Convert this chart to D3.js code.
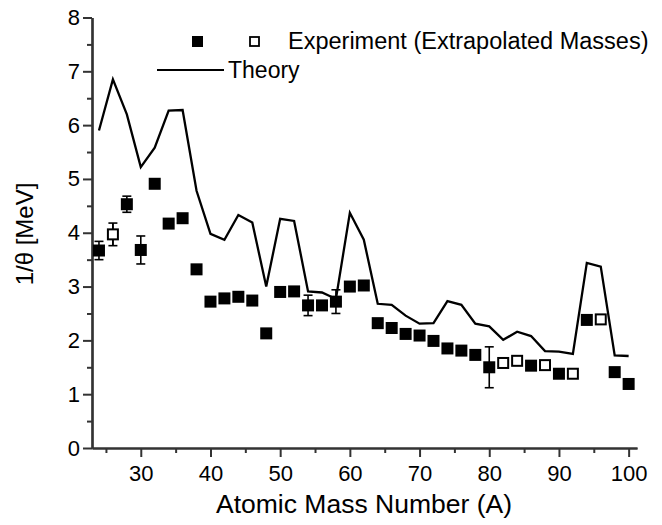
<!DOCTYPE html>
<html>
<head>
<meta charset="utf-8">
<script src="https://cdn.jsdelivr.net/npm/d3@7/dist/d3.min.js"></script>
<style>
  body { margin: 0; background: #fff; }
  svg { display: block; }
  text { font-family: "Liberation Sans", Arial, Helvetica, sans-serif; fill: #000; }
</style>
</head>
<body>
<svg id="chart" width="662" height="525"></svg>
<script>
// Theory curve
const theoryA = [24,26,28,30,32,34,36,38,40,42,44,46,48,50,52,54,56,58,60,62,64,66,68,70,72,74,76,78,80,82,84,86,88,90,92,94,96,98,100];
const theoryV = [5.90,6.85,6.20,5.22,5.58,6.27,6.28,4.78,3.98,3.87,4.33,4.19,3.00,4.26,4.22,2.91,2.89,2.77,4.37,3.87,2.68,2.66,2.46,2.31,2.32,2.73,2.66,2.31,2.26,2.01,2.16,2.08,1.80,1.79,1.75,3.44,3.37,1.72,1.71];

// Experiment (filled = measured, open = extrapolated masses)
const expA   = [24,26,28,30,32,34,36,38,40,42,44,46,48,50,52,54,56,58,60,62,64,66,68,70,72,74,76,78,80,82,84,86,88,90,92,94,96,98,100];
const expV   = [3.67,3.97,4.53,3.68,4.91,4.17,4.27,3.32,2.72,2.78,2.81,2.74,2.13,2.90,2.91,2.65,2.65,2.72,3.00,3.02,2.32,2.23,2.12,2.09,1.99,1.85,1.81,1.73,1.50,1.58,1.62,1.53,1.54,1.38,1.38,2.38,2.39,1.41,1.19];
const expErr = [0.17,0.21,0.15,0.26,0.05,0.05,0.07,0.08,0.04,0.04,0.04,0.04,0.03,0.04,0.04,0.19,0.04,0.22,0.04,0.04,0.04,0.04,0.04,0.04,0.04,0.04,0.04,0.04,0.38,0.05,0.04,0.04,0.04,0.04,0.04,0.04,0.04,0.04,0.04];
const expOpen = [false,true,false,false,false,false,false,false,false,false,false,false,false,false,false,false,false,false,false,false,false,false,false,false,false,false,false,false,false,true,true,false,true,false,true,false,true,false,false];

const xTicks = [30,40,50,60,70,80,90,100];
const xMinor = [25,35,45,55,65,75,85,95];
const yTicks = [0,1,2,3,4,5,6,7,8];
const yMinor = [0.5,1.5,2.5,3.5,4.5,5.5,6.5,7.5];

const legendLabels = ["Experiment (Extrapolated Masses)", "Theory"];
const xTitle = "Atomic Mass Number (A)";
const yTitle = "1/θ [MeV]";

const svg = d3.select("#chart");
const x = d3.scaleLinear().domain([23, 101.2]).range([92, 637]);
const y = d3.scaleLinear().domain([0, 8]).range([448, 17.5]);
const axisColor = "#333";

// X axis
const gx = svg.append("g").attr("transform", `translate(0,${y(0)})`);
gx.call(d3.axisBottom(x).tickValues(xTicks).tickSize(9).tickSizeOuter(0).tickPadding(8).tickFormat(d3.format("d")));
gx.append("g").call(d3.axisBottom(x).tickValues(xMinor).tickSize(5).tickSizeOuter(0).tickFormat(""));
gx.selectAll("path.domain").attr("stroke", axisColor).attr("stroke-width", 2.2);
gx.selectAll(".tick line").attr("stroke", axisColor).attr("stroke-width", 2);
gx.selectAll(".tick text").style("font-size", "22px").style("font-family", "Liberation Sans, Arial, sans-serif").attr("fill", "#000");

// Y axis
const gy = svg.append("g").attr("transform", `translate(${x(23)},0)`);
gy.call(d3.axisLeft(y).tickValues(yTicks).tickSize(9).tickSizeOuter(0).tickPadding(3).tickFormat(d3.format("d")));
gy.append("g").call(d3.axisLeft(y).tickValues(yMinor).tickSize(5).tickSizeOuter(0).tickFormat(""));
gy.selectAll("path.domain").attr("stroke", axisColor).attr("stroke-width", 2.2);
gy.selectAll(".tick line").attr("stroke", axisColor).attr("stroke-width", 2);
gy.selectAll(".tick text").style("font-size", "22px").style("font-family", "Liberation Sans, Arial, sans-serif").attr("fill", "#000");

// Theory line
const line = d3.line().x(d => x(d[0])).y(d => y(d[1]));
svg.append("path")
  .datum(theoryA.map((a, i) => [a, theoryV[i]]))
  .attr("d", line)
  .attr("fill", "none")
  .attr("stroke", "#000")
  .attr("stroke-width", 2.3)
  .attr("stroke-linejoin", "miter");

// Experiment points
const pts = expA.map((a, i) => ({a, v: expV[i], e: expErr[i], open: expOpen[i]}));
const capW = 4.5;
const eb = svg.append("g").attr("stroke", "#000").attr("stroke-width", 1.6);
pts.filter(d => d.e > 0.1).forEach(d => {
  eb.append("line").attr("x1", x(d.a)).attr("x2", x(d.a)).attr("y1", y(d.v + d.e)).attr("y2", y(d.v - d.e));
  eb.append("line").attr("x1", x(d.a) - capW).attr("x2", x(d.a) + capW).attr("y1", y(d.v + d.e)).attr("y2", y(d.v + d.e));
  eb.append("line").attr("x1", x(d.a) - capW).attr("x2", x(d.a) + capW).attr("y1", y(d.v - d.e)).attr("y2", y(d.v - d.e));
});
const sq = 12;
svg.append("g").selectAll("rect").data(pts).join("rect")
  .attr("x", d => x(d.a) - sq / 2 + (d.open ? 1 : 0))
  .attr("y", d => y(d.v) - sq / 2 + (d.open ? 1 : 0))
  .attr("width", d => d.open ? sq - 2 : sq)
  .attr("height", d => d.open ? sq - 2 : sq)
  .attr("fill", d => d.open ? "#fff" : "#000")
  .attr("stroke", "#000")
  .attr("stroke-width", d => d.open ? 2 : 0);

// error bars through open squares
pts.filter(d => d.open && d.e > 0.1).forEach(d => {
  svg.append("line").attr("x1", x(d.a)).attr("x2", x(d.a)).attr("y1", y(d.v + d.e)).attr("y2", y(d.v) - sq/2 + 1).attr("stroke", "#000").attr("stroke-width", 1.6);
  svg.append("line").attr("x1", x(d.a)).attr("x2", x(d.a)).attr("y1", y(d.v) + sq/2 - 1).attr("y2", y(d.v - d.e)).attr("stroke", "#000").attr("stroke-width", 1.6);
});

// Legend
const lg = svg.append("g");
lg.append("rect").attr("x", 192).attr("y", 36).attr("width", 11).attr("height", 11).attr("fill", "#000");
lg.append("rect").attr("x", 250).attr("y", 37).attr("width", 9).attr("height", 9).attr("fill", "#fff").attr("stroke", "#000").attr("stroke-width", 1.8);
lg.append("text").attr("x", 288).attr("y", 49).style("font-size", "23.5px").text(legendLabels[0]);
lg.append("line").attr("x1", 157).attr("x2", 224).attr("y1", 70).attr("y2", 70).attr("stroke", "#000").attr("stroke-width", 2.2);
lg.append("text").attr("x", 228).attr("y", 78).style("font-size", "23px").text(legendLabels[1]);

// Axis titles
svg.append("text").attr("x", 364).attr("y", 513).attr("text-anchor", "middle").style("font-size", "26.5px").text(xTitle);
svg.append("text").attr("transform", "translate(33,234) rotate(-90)").attr("text-anchor", "middle").style("font-size", "24px").text(yTitle);
</script>
</body>
</html>
